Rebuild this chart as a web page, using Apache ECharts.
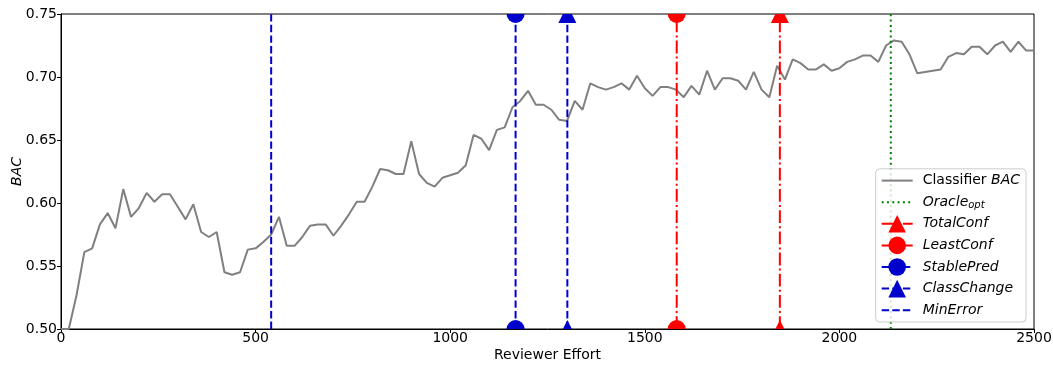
<!DOCTYPE html>
<html>
<head>
<meta charset="utf-8">
<script src="https://cdn.jsdelivr.net/npm/echarts@6/dist/echarts.min.js"></script>
<style>
  html, body { margin: 0; padding: 0; background: #fff; }
  #chart { width: 1053px; height: 366px; }
</style>
</head>
<body>
<div id="chart"></div>
<script>
// reviewer effort (x) and classifier BAC (y)
var effort = [0, 20, 40, 60, 80, 100, 120, 140, 160, 180, 200, 220, 240, 260, 280, 300, 320, 340, 360, 380,
    400, 420, 440, 460, 480, 500, 520, 540, 560, 580, 600, 620, 640, 660, 680, 700, 720, 740, 760, 780,
    800, 820, 840, 860, 880, 900, 920, 940, 960, 980, 1000, 1020, 1040, 1060, 1080, 1100, 1120, 1140, 1160, 1180,
    1200, 1220, 1240, 1260, 1280, 1300, 1320, 1340, 1360, 1380, 1400, 1420, 1440, 1460, 1480, 1500, 1520, 1540, 1560, 1580,
    1600, 1620, 1640, 1660, 1680, 1700, 1720, 1740, 1760, 1780, 1800, 1820, 1840, 1860, 1880, 1900, 1920, 1940, 1960, 1980,
    2000, 2020, 2040, 2060, 2080, 2100, 2120, 2140, 2160, 2180, 2200, 2220, 2240, 2260, 2280, 2300, 2320, 2340, 2360, 2380,
    2400, 2420, 2440, 2460, 2480, 2500];
var bac = [0.500, 0.500, 0.527, 0.561, 0.564, 0.583, 0.592, 0.580, 0.611, 0.589, 0.596, 0.608, 0.601, 0.607, 0.607, 0.597, 0.587, 0.599, 0.577, 0.573,
    0.577, 0.545, 0.543, 0.545, 0.563, 0.564, 0.569, 0.575, 0.589, 0.566, 0.566, 0.573, 0.582, 0.583, 0.583, 0.574, 0.582, 0.591, 0.601, 0.601,
    0.613, 0.627, 0.626, 0.623, 0.623, 0.649, 0.623, 0.616, 0.613, 0.620, 0.622, 0.624, 0.630, 0.654, 0.651, 0.642, 0.658, 0.660, 0.676, 0.681,
    0.689, 0.678, 0.678, 0.674, 0.666, 0.665, 0.681, 0.674, 0.695, 0.692, 0.690, 0.692, 0.695, 0.690, 0.701, 0.691, 0.685, 0.692, 0.692, 0.690,
    0.684, 0.693, 0.686, 0.705, 0.690, 0.699, 0.699, 0.697, 0.690, 0.704, 0.690, 0.684, 0.709, 0.698, 0.714, 0.711, 0.706, 0.706, 0.710, 0.705,
    0.707, 0.712, 0.714, 0.717, 0.717, 0.712, 0.725, 0.729, 0.728, 0.718, 0.703, 0.704, 0.705, 0.706, 0.716, 0.719, 0.718, 0.724, 0.724, 0.718,
    0.725, 0.728, 0.720, 0.728, 0.721, 0.721];

// stopping points (reviewer effort where each method stops)
var stopNames = ['Oracle', 'TotalConf', 'LeastConf', 'StablePred', 'ClassChange', 'MinError'];
var stopEffort = [2132, 1847, 1582, 1168, 1301, 540];

var yTicks = [0.50, 0.55, 0.60, 0.65, 0.70, 0.75];
var xTicks = [0, 500, 1000, 1500, 2000, 2500];

var FONT = 'DejaVu Sans';
var FS = 14;
var BLUE = '#0000cd', RED = '#ff0000', GREEN = '#008000', GREY = '#808080';
var DASH = [7.4, 3.2], DASHDOT = [12.8, 3.2, 2, 3.2], DOT = [2, 3.3];
var MS = 9; // marker half size

var markerData = []; // [effort, bac, shape(0 circle / 1 triangle), color]

function stopLine(name, color, dash, marker) {
    var x = stopEffort[stopNames.indexOf(name)];
    var lo = yTicks[0], hi = yTicks[yTicks.length - 1];
    if (marker) {
        var shape = marker === 'circle' ? 0 : 1;
        markerData.push([x, lo, shape, color]);
        markerData.push([x, hi, shape, color]);
    }
    return {
        name: name,
        type: 'line',
        data: [[x, lo], [x, hi]],
        // symbol only for the legend icon, the plot markers come from the custom series
        symbol: marker || 'none',
        symbolSize: 0,
        showSymbol: false,
        color: color,
        itemStyle: {color: color},
        lineStyle: {color: color, width: 2, type: dash},
        emphasis: {disabled: true},
        z: 3
    };
}

// markers sit on the frame, only the half inside the plot is drawn
function renderMarker(params, api) {
    var p = api.coord([api.value(0), api.value(1)]);
    var atTop = api.value(1) >= yTicks[yTicks.length - 1];
    var color = markerData[params.dataIndex][3];
    var x = p[0], y = p[1];
    if (api.value(2) === 0) {
        return {
            type: 'sector',
            shape: {
                cx: x, cy: y, r0: 0, r: MS,
                startAngle: atTop ? 0 : Math.PI,
                endAngle: atTop ? Math.PI : 2 * Math.PI,
                clockwise: true
            },
            style: {fill: color}
        };
    }
    var pts = atTop
        ? [[x - MS / 2, y], [x + MS / 2, y], [x + MS, y + MS], [x - MS, y + MS]]
        : [[x - MS / 2, y], [x, y - MS], [x + MS / 2, y]];
    return {type: 'polygon', shape: {points: pts}, style: {fill: color}};
}

var bacData = [];
for (var i = 0; i < effort.length; i++) {
    bacData.push([effort[i], bac[i]]);
}

var legendLabels = {
    'Classifier': 'Classifier {i|BAC}',
    'Oracle': '{i|Oracle}{s|opt}',
    'TotalConf': '{i|TotalConf}',
    'LeastConf': '{i|LeastConf}',
    'StablePred': '{i|StablePred}',
    'ClassChange': '{i|ClassChange}',
    'MinError': '{i|MinError}'
};

var lineSeries = [
    {
        name: 'Classifier',
        type: 'line',
        data: bacData,
        symbol: 'none',
        color: GREY,
        lineStyle: {color: GREY, width: 2},
        emphasis: {disabled: true},
        z: 2
    },
    stopLine('Oracle', GREEN, DOT, null),
    stopLine('TotalConf', RED, DASHDOT, 'triangle'),
    stopLine('LeastConf', RED, DASHDOT, 'circle'),
    stopLine('StablePred', BLUE, DASH, 'circle'),
    stopLine('ClassChange', BLUE, DASH, 'triangle'),
    stopLine('MinError', BLUE, DASH, null)
];

var myChart = echarts.init(document.getElementById('chart'), null, {renderer: 'canvas'});

var option = {
    animation: false,
    backgroundColor: '#fff',
    grid: {
        left: 61, right: 19, top: 14, bottom: 37,
        outerBoundsMode: 'none',
        show: true, borderColor: '#000', borderWidth: 1
    },
    xAxis: {
        type: 'value',
        min: 0, max: 2500, interval: 500,
        name: 'Reviewer Effort',
        nameLocation: 'middle',
        nameGap: 19,
        nameMoveOverlap: false,
        nameTextStyle: {fontFamily: FONT, fontSize: FS, color: '#000'},
        axisLine: {show: true, onZero: false, lineStyle: {color: '#000', width: 1}},
        axisTick: {show: true, inside: false, length: 4, lineStyle: {color: '#000'}},
        axisLabel: {
            margin: 2.5, fontFamily: FONT, fontSize: FS, color: '#000',
            formatter: function (v) { return String(v); }
        },
        splitLine: {show: false}
    },
    yAxis: {
        type: 'value',
        min: 0.5, max: 0.75, interval: 0.05,
        name: 'BAC',
        nameLocation: 'middle',
        nameGap: 37,
        nameMoveOverlap: false,
        nameTextStyle: {fontFamily: FONT, fontSize: FS, color: '#000', fontStyle: 'italic'},
        axisLine: {show: true, lineStyle: {color: '#000', width: 1}},
        axisTick: {show: true, inside: false, length: 4, lineStyle: {color: '#000'}},
        axisLabel: {
            margin: 4, fontFamily: FONT, fontSize: FS, color: '#000',
            formatter: function (v) { return v.toFixed(2); }
        },
        splitLine: {show: false}
    },
    legend: {
        orient: 'vertical',
        right: 27,
        bottom: 44,
        itemWidth: 31,
        itemHeight: 22,
        itemGap: 4,
        padding: [3, 6, 3, 5],
        backgroundColor: 'rgba(255,255,255,0.8)',
        borderColor: '#cccccc',
        borderWidth: 1,
        borderRadius: 4,
        data: [
            {name: 'Classifier', itemStyle: {opacity: 0}},
            {name: 'Oracle', itemStyle: {opacity: 0}},
            'TotalConf', 'LeastConf', 'StablePred', 'ClassChange',
            {name: 'MinError', itemStyle: {opacity: 0}}
        ],
        formatter: function (name) { return legendLabels[name]; },
        textStyle: {
            fontFamily: FONT, fontSize: FS, color: '#000', padding: [0, 0, 0, 5],
            rich: {
                i: {fontFamily: FONT, fontSize: FS, fontStyle: 'italic', color: '#000'},
                s: {fontFamily: FONT, fontSize: 10, fontStyle: 'italic', color: '#000', padding: [6, 0, 0, 0]}
            }
        }
    },
    series: lineSeries.concat([{
        name: 'markers',
        type: 'custom',
        data: markerData,
        renderItem: renderMarker,
        clip: false,
        silent: true,
        z: 4
    }])
};

myChart.setOption(option, true);
</script>
</body>
</html>
